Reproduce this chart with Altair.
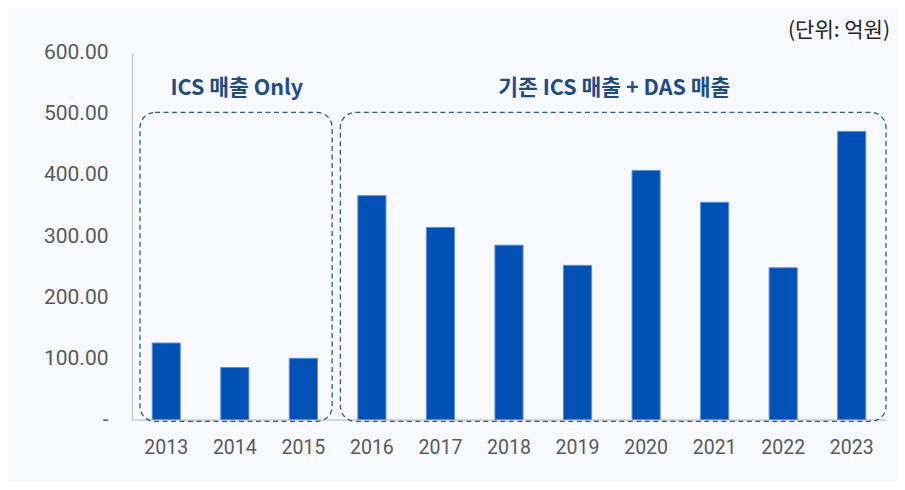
import altair as alt
import pandas as pd

years = ["2013", "2014", "2015", "2016", "2017", "2018", "2019", "2020", "2021", "2022", "2023"]
sales = [125, 85, 100, 366, 314, 285, 252, 407, 355, 248, 471]

group_labels = ["ICS 매출 Only", "기존 ICS 매출 + DAS 매출"]
group_start = ["2013", "2016"]
group_end = ["2015", "2023"]
group_label_at = ["2014", "2019"]
unit_label = "(단위: 억원)"

BG = "#f7f9fd"
BAR = "#0050b5"
NAVY = "#1f4b86"
BOX = "#2f5a8a"
GRAY = "#595959"

bars_df = pd.DataFrame({"year": years, "sales": sales})

x_scale = alt.Scale(domain=years, paddingInner=0.59, paddingOuter=0.295)
# full-step band scale for annotation overlays
x_full = alt.Scale(type="band", domain=years, paddingInner=0, paddingOuter=0)
y_scale = alt.Scale(domain=[0, 600], nice=False)

bars = alt.Chart(bars_df).mark_bar(color=BAR, stroke="#5a8fda", strokeWidth=1).encode(
    x=alt.X("year:N", scale=x_scale, sort=years,
            axis=alt.Axis(title=None, labelAngle=0, labelFontSize=19.5, labelColor=GRAY,
                          labelFont="Roboto", ticks=False, domainColor="#d4d6da",
                          domainWidth=2, labelPadding=19)),
    y=alt.Y("sales:Q", scale=y_scale,
            axis=alt.Axis(title=None, values=[0, 100, 200, 300, 400, 500, 600],
                          labelExpr="datum.value == 0 ? '-\u00a0\u00a0' : format(datum.value, '.2f')",
                          labelFontSize=21, labelColor=GRAY, labelFont="Roboto",
                          ticks=False, grid=False, domainColor="#c8cacd",
                          domainWidth=1.5, labelPadding=24)),
)

layers = [bars]

box_left_band = [0.117, 0.04]
box_right_band = [0.92, 1.0]
for i in range(len(group_labels)):
    bdf = pd.DataFrame({"s": [group_start[i]], "e": [group_end[i]], "top": [502], "bot": [-3]})
    box = alt.Chart(bdf).mark_rect(
        fill=None, fillOpacity=0, stroke=BOX, strokeWidth=1.3, strokeDash=[5, 3.5], cornerRadius=15
    ).encode(
        x=alt.X("s:N", scale=x_full, sort=years, bandPosition=box_left_band[i], axis=None),
        x2=alt.X2("e:N", bandPosition=box_right_band[i]),
        y=alt.Y("top:Q", scale=y_scale),
        y2=alt.Y2("bot:Q"),
    )
    layers.append(box)

label_band = [0.5, 1.0]
label_dx = [2, 2.5]
for i in range(len(group_labels)):
    tdf = pd.DataFrame({"at": [group_label_at[i]], "label": [group_labels[i]], "yv": [541]})
    t = alt.Chart(tdf).mark_text(
        font="Noto Sans CJK KR", fontWeight="bold", fontSize=21.5, color=NAVY,
        align="center", baseline="middle", dx=label_dx[i]
    ).encode(
        x=alt.X("at:N", scale=x_full, sort=years, bandPosition=label_band[i], axis=None),
        y=alt.Y("yv:Q", scale=y_scale),
        text="label:N",
    )
    layers.append(t)

udf = pd.DataFrame({"at": [years[-1]], "label": [unit_label], "yv": [635]})
unit = alt.Chart(udf).mark_text(
    font="Noto Sans CJK KR", fontSize=21, color="#222222", align="right", baseline="middle", dx=4
).encode(
    x=alt.X("at:N", scale=x_full, sort=years, bandPosition=1.0, axis=None),
    y=alt.Y("yv:Q", scale=y_scale),
    text="label:N",
)
layers.append(unit)

chart = alt.layer(*layers).resolve_scale(x="independent").properties(
    width=754, height=367,
    background=BG,
    padding={"left": 124, "right": 11, "top": 44.5, "bottom": 62.5},
    autosize=alt.AutoSizeParams(type="none"),
).configure_view(stroke=None)

chart.save("out.html", embed_options={"renderer": "svg", "actions": False})
